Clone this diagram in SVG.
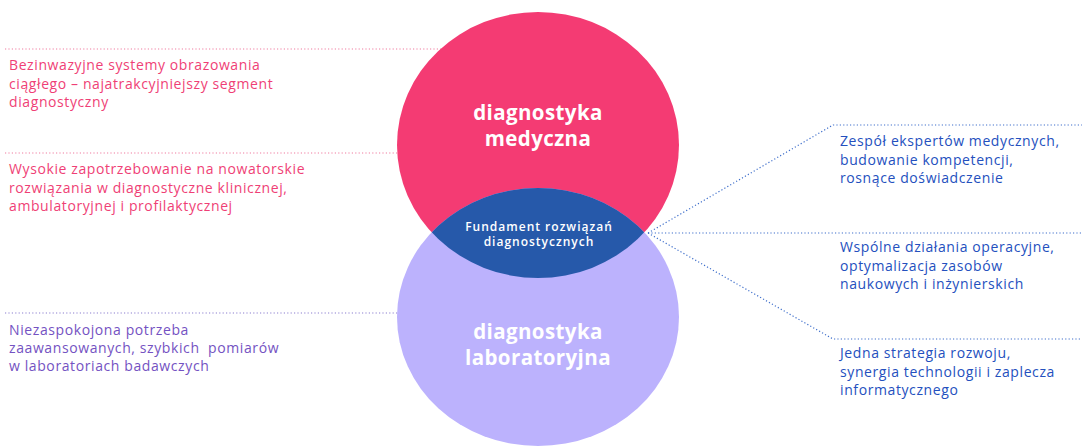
<svg xmlns="http://www.w3.org/2000/svg" width="1082" height="446" viewBox="0 0 1082 446">
<style>
.dot{fill:none;stroke-width:1.2;stroke-dasharray:1.2 2.2}
.dp{stroke:#F07CA0}
.dv{stroke:#8C7FD0}
.db{stroke:#3F6FCB}
.t{font-family:"Open Sans","Liberation Sans",sans-serif;font-size:14px;letter-spacing:0.6px}
.tp{fill:#EF3F76}
.tv{fill:#7452C2}
.tb{fill:#2450BE}
.big{font-family:"Open Sans","Liberation Sans",sans-serif;font-size:20.5px;font-weight:700;fill:#fff;text-anchor:middle;letter-spacing:0.4px}
.lens{font-family:"Open Sans","Liberation Sans",sans-serif;font-size:12px;font-weight:600;fill:#fff;text-anchor:middle;letter-spacing:1px}
</style>
<rect width="1082" height="446" fill="#fff"/>
<g id="connectors">
<line class="dot dp" x1="5" y1="49" x2="450" y2="49"/>
<line class="dot dp" x1="5" y1="153" x2="410" y2="153"/>
<line class="dot dv" x1="5" y1="313" x2="410" y2="313"/>
<polyline class="dot db" points="648,233 833,125 1082,125"/>
<line class="dot db" x1="648" y1="233" x2="1082" y2="233"/>
<polyline class="dot db" points="648,233 833,339 1082,339"/>
</g>
<g id="medyczna">
<ellipse cx="538" cy="145" rx="141" ry="133" fill="#F43B73"/>
<text class="big"><tspan x="538" y="120">diagnostyka</tspan><tspan x="538" y="146">medyczna</tspan></text>
</g>
<g id="laboratoryjna">
<ellipse cx="538" cy="317" rx="141" ry="129" fill="#BCB2FD"/>
<text class="big"><tspan x="538" y="339">diagnostyka</tspan><tspan x="538" y="365">laboratoryjna</tspan></text>
</g>
<g id="fundament">
<clipPath id="clipPink"><ellipse cx="538" cy="145" rx="141" ry="133"/></clipPath>
<ellipse cx="538" cy="317" rx="141" ry="129" fill="#2659AA" clip-path="url(#clipPink)"/>
<text class="lens"><tspan x="539" y="230.5">Fundament rozwiązań</tspan><tspan x="539" y="246">diagnostycznych</tspan></text>
</g>
<g id="left1"><text class="t tp"><tspan x="9" y="70">Bezinwazyjne systemy obrazowania</tspan><tspan x="9" y="88.5">ciągłego – najatrakcyjniejszy segment</tspan><tspan x="9" y="107">diagnostyczny</tspan></text></g>
<g id="left2"><text class="t tp"><tspan x="9" y="174">Wysokie zapotrzebowanie na nowatorskie</tspan><tspan x="9" y="192.5">rozwiązania w diagnostyczne klinicznej,</tspan><tspan x="9" y="211">ambulatoryjnej i profilaktycznej</tspan></text></g>
<g id="left3"><text class="t tv"><tspan x="9" y="335">Niezaspokojona potrzeba</tspan><tspan x="9" y="353">zaawansowanych, szybkich&#160; pomiarów</tspan><tspan x="9" y="371">w laboratoriach badawczych</tspan></text></g>
<g id="right1"><text class="t tb"><tspan x="840" y="146">Zespół ekspertów medycznych,</tspan><tspan x="840" y="164.5">budowanie kompetencji,</tspan><tspan x="840" y="183">rosnące doświadczenie</tspan></text></g>
<g id="right2"><text class="t tb"><tspan x="840" y="252">Wspólne działania operacyjne,</tspan><tspan x="840" y="270.5">optymalizacja zasobów</tspan><tspan x="840" y="289">naukowych i inżynierskich</tspan></text></g>
<g id="right3"><text class="t tb"><tspan x="840" y="358">Jedna strategia rozwoju,</tspan><tspan x="840" y="376.5">synergia technologii i zaplecza</tspan><tspan x="840" y="395">informatycznego</tspan></text></g>
</svg>
